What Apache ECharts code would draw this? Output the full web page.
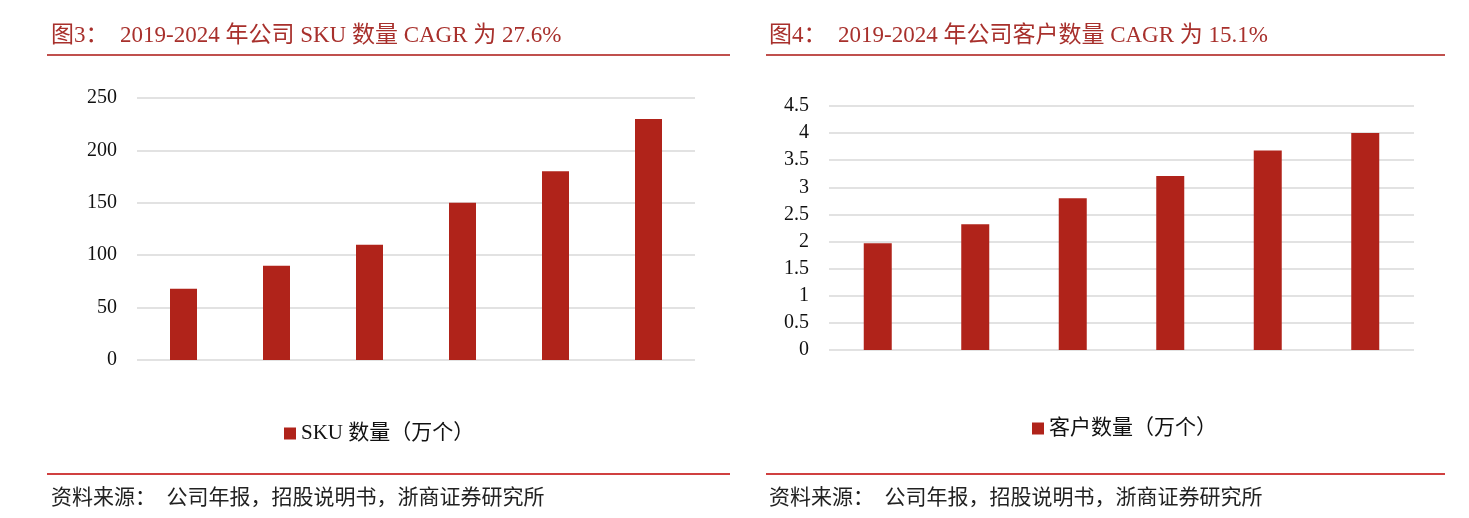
<!DOCTYPE html>
<html>
<head>
<meta charset="utf-8">
<script src="https://cdn.jsdelivr.net/npm/echarts@6/dist/echarts.min.js"></script>
<style>
html,body{margin:0;padding:0;background:#fff;}
#c{width:1469px;height:518px;}
</style>
</head>
<body>
<div id="c"></div>
<script>
var years = ['2019', '2020', '2021', '2022', '2023', '2024'];
var skuValues = [68, 90, 110, 150, 180, 230];
var customerValues = [1.97, 2.32, 2.80, 3.21, 3.68, 4.0];
var skuTicks = {min: 0, max: 250, interval: 50};
var custTicks = {min: 0, max: 4.5, interval: 0.5};
var skuName = 'SKU 数量（万个）';
var custName = '客户数量（万个）';
var title1 = '图3：  2019-2024 年公司 SKU 数量 CAGR 为 27.6%';
var title2 = '图4：  2019-2024 年公司客户数量 CAGR 为 15.1%';
var sourceText = '资料来源：  公司年报，招股说明书，浙商证券研究所';

var serif = "'Liberation Serif', 'Times New Roman', 'Noto Sans CJK SC', serif";
var red = '#b0231a';
var titleColor = '#a8302c';

var chart = echarts.init(document.getElementById('c'));
var splitLine = {show: true, lineStyle: {color: '#e2e2e2', width: 2}};
function xAxisCfg(idx) {
  return {
    type: 'category', gridIndex: idx, data: years,
    axisLine: {show: false}, axisTick: {show: false}, axisLabel: {show: false}
  };
}
function yAxisCfg(idx, t) {
  return {
    type: 'value', gridIndex: idx, min: t.min, max: t.max, interval: t.interval,
    axisLine: {show: false}, axisTick: {show: false},
    axisLabel: {color: '#111', fontFamily: serif, fontSize: 20, margin: 20},
    splitLine: splitLine
  };
}
chart.setOption({
  animation: false,
  title: [
    {text: title1, left: 46, top: 19, textStyle: {color: titleColor, fontFamily: serif, fontSize: 23, fontWeight: 'normal'}},
    {text: title2, left: 764, top: 19, textStyle: {color: titleColor, fontFamily: serif, fontSize: 23, fontWeight: 'normal'}},
    {text: sourceText, left: 46, top: 483, textStyle: {color: '#222', fontFamily: serif, fontSize: 21, fontWeight: 'normal'}},
    {text: sourceText, left: 764, top: 483, textStyle: {color: '#222', fontFamily: serif, fontSize: 21, fontWeight: 'normal'}}
  ],
  grid: [
    {left: 137, right: 774, top: 98, bottom: 158},
    {left: 829, right: 55, top: 106, bottom: 168}
  ],
  xAxis: [xAxisCfg(0), xAxisCfg(1)],
  yAxis: [yAxisCfg(0, skuTicks), yAxisCfg(1, custTicks)],
  legend: [
    {data: [skuName], left: 279, top: 418, itemWidth: 12, itemHeight: 12, itemGap: 4,
     icon: 'rect', textStyle: {color: '#111', fontFamily: serif, fontSize: 21}},
    {data: [custName], left: 1027, top: 413, itemWidth: 12, itemHeight: 12, itemGap: 4,
     icon: 'rect', textStyle: {color: '#111', fontFamily: serif, fontSize: 21}}
  ],
  series: [
    {name: skuName, type: 'bar', xAxisIndex: 0, yAxisIndex: 0, data: skuValues,
     barWidth: 27, itemStyle: {color: red}},
    {name: custName, type: 'bar', xAxisIndex: 1, yAxisIndex: 1, data: customerValues,
     barWidth: 28, itemStyle: {color: red}}
  ],
  graphic: [
    {type: 'line', shape: {x1: 47, y1: 55, x2: 730, y2: 55}, style: {stroke: '#c0504d', lineWidth: 2}},
    {type: 'line', shape: {x1: 766, y1: 55, x2: 1445, y2: 55}, style: {stroke: '#c0504d', lineWidth: 2}},
    {type: 'line', shape: {x1: 47, y1: 474, x2: 730, y2: 474}, style: {stroke: '#c00000', lineWidth: 1.5}},
    {type: 'line', shape: {x1: 766, y1: 474, x2: 1445, y2: 474}, style: {stroke: '#c00000', lineWidth: 1.5}}
  ]
});
</script>
</body>
</html>
